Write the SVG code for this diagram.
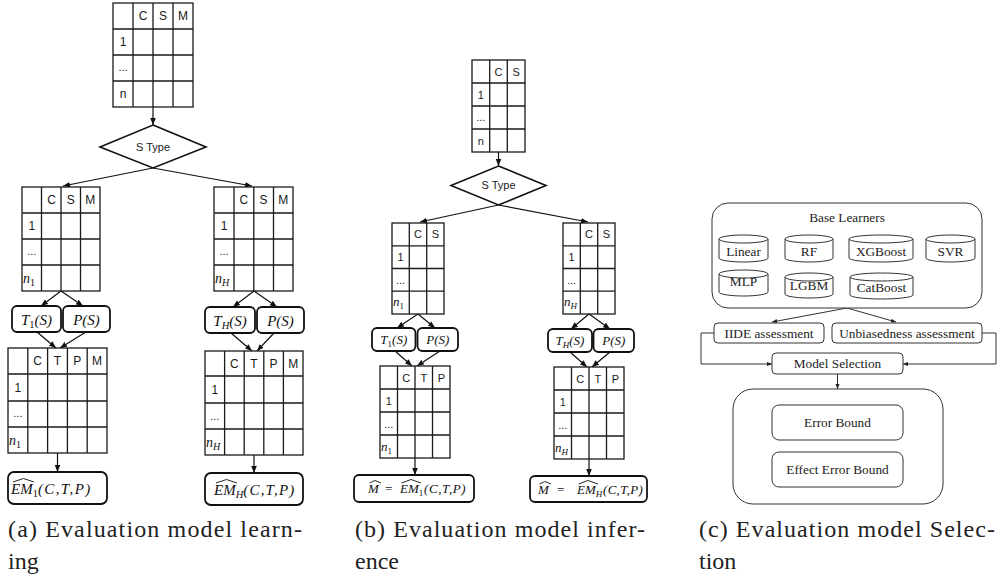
<svg xmlns="http://www.w3.org/2000/svg" width="997" height="581" viewBox="0 0 997 581">
<style>
.bg{fill:#fff}
.tb{fill:#fff;stroke:#1a1a1a;stroke-width:1.3}
.tl{stroke:#1a1a1a;stroke-width:1.3}
.sa{font-family:"Liberation Sans",Arial,sans-serif;font-size:12px;fill:#1a1a1a;text-anchor:middle}
.sb{font-family:"Liberation Sans",Arial,sans-serif;font-size:11px;fill:#1a1a1a;text-anchor:middle}
.m{font-family:"Liberation Serif","Times New Roman",serif;font-style:italic;fill:#111}
.up{font-style:normal}
.bx{fill:#fff;stroke:#111;stroke-width:1.8}
.dm{fill:#fff;stroke:#111;stroke-width:1.6}
.cn{stroke:#111;stroke-width:1.2;fill:none}
.cc{stroke:#333;stroke-width:1;fill:none}
.pc{fill:#fff;stroke:#333;stroke-width:1}
.hat{fill:none;stroke:#111;stroke-width:0.9}
.tc{font-family:"Liberation Serif","Times New Roman",serif;font-size:13.3px;text-anchor:middle;fill:#222}
.cap{font-family:"Liberation Serif","Times New Roman",serif;font-size:24px;fill:#222}
</style>
<defs>
<marker id="ah" viewBox="0 0 10 10" refX="10" refY="5" markerWidth="7" markerHeight="7" markerUnits="userSpaceOnUse" orient="auto"><path d="M0,1 L10,5 L0,9 z" fill="#111"/></marker>
<marker id="as" viewBox="0 0 10 10" refX="10" refY="5" markerWidth="5" markerHeight="5" markerUnits="userSpaceOnUse" orient="auto"><path d="M0,1 L10,5 L0,9 z" fill="#222"/></marker>
</defs>
<rect class="bg" x="0" y="0" width="997" height="581"/>

<!-- connectors -->
<g id="connectors">
<line class="cn" x1="153" y1="107" x2="153" y2="125" marker-end="url(#ah)"/>
<line class="cn" x1="153" y1="168" x2="63" y2="186" marker-end="url(#ah)"/>
<line class="cn" x1="153" y1="168" x2="252" y2="186" marker-end="url(#ah)"/>
<line class="cn" x1="61" y1="291" x2="41" y2="306" marker-end="url(#ah)"/>
<line class="cn" x1="61" y1="291" x2="83" y2="306" marker-end="url(#ah)"/>
<line class="cn" x1="254" y1="291" x2="233" y2="307" marker-end="url(#ah)"/>
<line class="cn" x1="254" y1="291" x2="277" y2="307" marker-end="url(#ah)"/>
<line class="cn" x1="37" y1="332" x2="56" y2="348" marker-end="url(#ah)"/>
<line class="cn" x1="86" y1="332" x2="60" y2="348" marker-end="url(#ah)"/>
<line class="cn" x1="231" y1="333" x2="252" y2="351" marker-end="url(#ah)"/>
<line class="cn" x1="274" y1="333" x2="257" y2="351" marker-end="url(#ah)"/>
<line class="cn" x1="57.5" y1="453" x2="57.5" y2="472" marker-end="url(#ah)"/>
<line class="cn" x1="254" y1="455" x2="254" y2="473" marker-end="url(#ah)"/>

<line class="cn" x1="498.5" y1="152" x2="498.5" y2="166" marker-end="url(#ah)"/>
<line class="cn" x1="498.5" y1="205" x2="420" y2="222" marker-end="url(#ah)"/>
<line class="cn" x1="498.5" y1="205" x2="588" y2="222" marker-end="url(#ah)"/>
<line class="cn" x1="418" y1="314" x2="397" y2="328" marker-end="url(#ah)"/>
<line class="cn" x1="418" y1="314" x2="435" y2="328" marker-end="url(#ah)"/>
<line class="cn" x1="589" y1="314" x2="571" y2="329" marker-end="url(#ah)"/>
<line class="cn" x1="589" y1="314" x2="610" y2="329" marker-end="url(#ah)"/>
<line class="cn" x1="395" y1="351" x2="412" y2="366" marker-end="url(#ah)"/>
<line class="cn" x1="440" y1="351" x2="417" y2="366" marker-end="url(#ah)"/>
<line class="cn" x1="570" y1="352" x2="587" y2="367" marker-end="url(#ah)"/>
<line class="cn" x1="610" y1="352" x2="592" y2="367" marker-end="url(#ah)"/>
<line class="cn" x1="415" y1="458" x2="415" y2="475" marker-end="url(#ah)"/>
<line class="cn" x1="589" y1="459" x2="589" y2="476" marker-end="url(#ah)"/>

<line class="cc" x1="847" y1="308" x2="772" y2="322" marker-end="url(#as)"/>
<line class="cc" x1="847" y1="308" x2="896" y2="322" marker-end="url(#as)"/>
<polyline class="cc" points="714,333 701,333 701,364 772,364" marker-end="url(#as)"/>
<polyline class="cc" points="982,333 996,333 996,364 903,364" marker-end="url(#as)"/>
<line class="cc" x1="837.5" y1="374" x2="837.5" y2="389" marker-end="url(#as)"/>
</g>

<!-- panel (a) -->
<g id="a-table-top">
<rect class="tb" x="113" y="3" width="80" height="104"/>
<path class="tl" d="M133,3V107M153,3V107M173,3V107M113,29H193M113,55H193M113,81H193"/>
<text class="sa" x="143" y="20">C</text><text class="sa" x="163" y="20">S</text><text class="sa" x="183" y="20">M</text>
<text class="sa" x="123" y="46">1</text><text class="sb" x="123" y="71">...</text><text class="sa" x="123" y="98">n</text>
</g>
<g id="a-stype">
<polygon class="dm" points="153,125 206,147 153,168 100,147"/>
<text class="sb" x="153" y="151">S Type</text>
</g>
<g id="a-table-1">
<rect class="tb" x="22" y="187" width="78" height="104"/>
<path class="tl" d="M41.5,187V291M61,187V291M80.5,187V291M22,213H100M22,239H100M22,265H100"/>
<text class="sa" x="51.5" y="204">C</text><text class="sa" x="70.8" y="204">S</text><text class="sa" x="90.3" y="204">M</text>
<text class="sa" x="31.8" y="230">1</text><text class="sb" x="31.8" y="255">...</text>
<text class="m" x="23" y="283" font-size="14">n<tspan class="up" font-size="10" dy="3">1</tspan></text>
</g>
<g id="a-table-H">
<rect class="tb" x="214" y="187" width="79" height="104"/>
<path class="tl" d="M234,187V291M253.8,187V291M273.5,187V291M214,213H293M214,239H293M214,265H293"/>
<text class="sa" x="243.9" y="204">C</text><text class="sa" x="263.6" y="204">S</text><text class="sa" x="283.2" y="204">M</text>
<text class="sa" x="224" y="230">1</text><text class="sb" x="224" y="255">...</text>
<text class="m" x="215" y="283" font-size="14">n<tspan font-size="10" dy="3">H</tspan></text>
</g>
<g id="a-T1">
<rect class="bx" x="12" y="306" width="49" height="26" rx="5"/>
<text class="m" x="36.5" y="325" font-size="15" text-anchor="middle">T<tspan class="up" font-size="10.5" dy="3">1</tspan><tspan dy="-3">(S)</tspan></text>
</g>
<g id="a-P1">
<rect class="bx" x="63" y="306" width="47" height="26" rx="5"/>
<text class="m" x="86.5" y="325" font-size="15" text-anchor="middle">P(S)</text>
</g>
<g id="a-TH">
<rect class="bx" x="205" y="307" width="50" height="26" rx="5"/>
<text class="m" x="230" y="326" font-size="15" text-anchor="middle">T<tspan font-size="10.5" dy="3">H</tspan><tspan dy="-3">(S)</tspan></text>
</g>
<g id="a-PH">
<rect class="bx" x="257" y="307" width="47" height="26" rx="5"/>
<text class="m" x="280.5" y="326" font-size="15" text-anchor="middle">P(S)</text>
</g>
<g id="a-table-1b">
<rect class="tb" x="8" y="348" width="99" height="105"/>
<path class="tl" d="M27.8,348V453M47.6,348V453M67.4,348V453M87.2,348V453M8,374H107M8,401H107M8,427H107"/>
<text class="sa" x="37.7" y="365">C</text><text class="sa" x="57.5" y="365">T</text><text class="sa" x="77.3" y="365">P</text><text class="sa" x="97.1" y="365">M</text>
<text class="sa" x="17.9" y="392">1</text><text class="sb" x="17.9" y="417">...</text>
<text class="m" x="9" y="445" font-size="14">n<tspan class="up" font-size="10" dy="3">1</tspan></text>
</g>
<g id="a-table-Hb">
<rect class="tb" x="205" y="351" width="98" height="104"/>
<path class="tl" d="M224.6,351V455M244.2,351V455M263.8,351V455M283.4,351V455M205,376H303M205,403H303M205,429H303"/>
<text class="sa" x="234.4" y="368">C</text><text class="sa" x="254" y="368">T</text><text class="sa" x="273.6" y="368">P</text><text class="sa" x="293.2" y="368">M</text>
<text class="sa" x="214.8" y="394">1</text><text class="sb" x="214.8" y="420">...</text>
<text class="m" x="206" y="447" font-size="14">n<tspan font-size="10" dy="3">H</tspan></text>
</g>
<g id="a-EM1">
<rect class="bx" x="8" y="472" width="99" height="32" rx="6"/>
<text class="m" y="494" font-size="15"><tspan x="11">EM</tspan><tspan class="up" font-size="10.5" dy="3">1</tspan><tspan dy="-3" letter-spacing="1.4">(C,T,P)</tspan></text>
<path class="hat" d="M13,482 L23.5,478.5 L34,482"/>
</g>
<g id="a-EMH">
<rect class="bx" x="205" y="473" width="98" height="32" rx="6"/>
<text class="m" y="495" font-size="15"><tspan x="214">EM</tspan><tspan font-size="10.5" dy="3">H</tspan><tspan dy="-3" letter-spacing="1.2">(C,T,P)</tspan></text>
<path class="hat" d="M216,483 L226.5,479.5 L237,483"/>
</g>

<!-- panel (b) -->
<g id="b-table-top">
<rect class="tb" x="472" y="60" width="53" height="92"/>
<path class="tl" d="M489.7,60V152M507.3,60V152M472,83H525M472,106H525M472,129H525"/>
<text class="sb" x="498.5" y="75.5">C</text><text class="sb" x="516.2" y="75.5">S</text>
<text class="sb" x="480.8" y="98.5">1</text><text class="sb" x="480.8" y="121">...</text><text class="sb" x="480.8" y="144.5">n</text>
</g>
<g id="b-stype">
<polygon class="dm" points="498.5,166 546,185.5 498.5,205 451,185.5"/>
<text class="sb" x="498.5" y="189" font-size="10">S Type</text>
</g>
<g id="b-table-1">
<rect class="tb" x="392" y="223" width="52" height="91"/>
<path class="tl" d="M409.3,223V314M426.7,223V314M392,245.8H444M392,268.5H444M392,291.2H444"/>
<text class="sb" x="418" y="238">C</text><text class="sb" x="435.3" y="238">S</text>
<text class="sb" x="400.6" y="261">1</text><text class="sb" x="400.6" y="284">...</text>
<text class="m" x="393" y="306" font-size="13">n<tspan class="up" font-size="9" dy="3">1</tspan></text>
</g>
<g id="b-table-H">
<rect class="tb" x="563" y="223" width="52" height="91"/>
<path class="tl" d="M580.3,223V314M597.7,223V314M563,245.8H615M563,268.5H615M563,291.2H615"/>
<text class="sb" x="589" y="238">C</text><text class="sb" x="606.3" y="238">S</text>
<text class="sb" x="571.6" y="261">1</text><text class="sb" x="571.6" y="284">...</text>
<text class="m" x="564" y="306" font-size="13">n<tspan font-size="9" dy="3">H</tspan></text>
</g>
<g id="b-T1">
<rect class="bx" x="372" y="328" width="43.5" height="23" rx="5"/>
<text class="m" x="393.8" y="344" font-size="13" text-anchor="middle">T<tspan class="up" font-size="9" dy="3">1</tspan><tspan dy="-3">(S)</tspan></text>
</g>
<g id="b-P1">
<rect class="bx" x="417.5" y="328" width="40.5" height="23" rx="5"/>
<text class="m" x="437.8" y="344" font-size="13" text-anchor="middle">P(S)</text>
</g>
<g id="b-TH">
<rect class="bx" x="548" y="329" width="44" height="23" rx="5"/>
<text class="m" x="570" y="345" font-size="13" text-anchor="middle">T<tspan font-size="9" dy="3">H</tspan><tspan dy="-3">(S)</tspan></text>
</g>
<g id="b-PH">
<rect class="bx" x="593.5" y="329" width="40.5" height="23" rx="5"/>
<text class="m" x="613.8" y="345" font-size="13" text-anchor="middle">P(S)</text>
</g>
<g id="b-table-1b">
<rect class="tb" x="380" y="366" width="70" height="92"/>
<path class="tl" d="M397.5,366V458M415,366V458M432.5,366V458M380,389H450M380,412H450M380,435H450"/>
<text class="sb" x="406.3" y="381.5">C</text><text class="sb" x="423.8" y="381.5">T</text><text class="sb" x="441.3" y="381.5">P</text>
<text class="sb" x="388.8" y="404.5">1</text><text class="sb" x="388.8" y="428">...</text>
<text class="m" x="381" y="451" font-size="13">n<tspan class="up" font-size="9" dy="3">1</tspan></text>
</g>
<g id="b-table-Hb">
<rect class="tb" x="554" y="367" width="70" height="92"/>
<path class="tl" d="M571.5,367V459M589,367V459M606.5,367V459M554,390H624M554,413H624M554,436H624"/>
<text class="sb" x="580.3" y="382.5">C</text><text class="sb" x="597.8" y="382.5">T</text><text class="sb" x="615.3" y="382.5">P</text>
<text class="sb" x="562.8" y="405.5">1</text><text class="sb" x="562.8" y="429">...</text>
<text class="m" x="555" y="452" font-size="13">n<tspan font-size="9" dy="3">H</tspan></text>
</g>
<g id="b-M1">
<rect class="bx" x="354" y="475" width="120" height="27" rx="5"/>
<text class="m" y="493" font-size="13"><tspan x="368">M</tspan><tspan class="up" x="385">=</tspan><tspan x="400">EM</tspan><tspan class="up" font-size="9" dy="3">1</tspan><tspan x="424" dy="-3" letter-spacing="0.6">(C,T,P)</tspan></text>
<path class="hat" d="M369.5,483 L375,480.5 L381,483"/>
<path class="hat" d="M401.5,483 L411,479.5 L421,483"/>
</g>
<g id="b-MH">
<rect class="bx" x="530" y="476" width="117" height="26" rx="5"/>
<text class="m" y="494" font-size="13"><tspan x="538">M</tspan><tspan class="up" x="557">=</tspan><tspan x="577">EM</tspan><tspan font-size="9" dy="3">H</tspan><tspan x="603" dy="-3" letter-spacing="0.3">(C,T,P)</tspan></text>
<path class="hat" d="M539.5,484 L545,481.5 L551,484"/>
<path class="hat" d="M578.5,484 L588,480.5 L598,484"/>
</g>

<!-- panel (c) -->
<g id="c-base">
<rect class="pc" x="712" y="203" width="270" height="105" rx="16"/>
<text class="tc" x="847" y="222">Base Learners</text>
</g>
<g id="c-linear">
<path class="pc" d="M719,239 a24.5,4 0 0 1 49,0 v19 a24.5,4 0 0 1 -49,0 z M719,239 a24.5,4 0 0 0 49,0"/>
<text class="tc" x="743.5" y="256">Linear</text>
</g>
<g id="c-rf">
<path class="pc" d="M785,239 a24,4 0 0 1 48,0 v19 a24,4 0 0 1 -48,0 z M785,239 a24,4 0 0 0 48,0"/>
<text class="tc" x="809" y="256">RF</text>
</g>
<g id="c-xgb">
<path class="pc" d="M849,239 a32,4 0 0 1 64,0 v19 a32,4 0 0 1 -64,0 z M849,239 a32,4 0 0 0 64,0"/>
<text class="tc" x="881" y="256">XGBoost</text>
</g>
<g id="c-svr">
<path class="pc" d="M926,239 a24.5,4 0 0 1 49,0 v19 a24.5,4 0 0 1 -49,0 z M926,239 a24.5,4 0 0 0 49,0"/>
<text class="tc" x="950.5" y="256">SVR</text>
</g>
<g id="c-mlp">
<path class="pc" d="M719,274 a24.5,4 0 0 1 49,0 v18 a24.5,4 0 0 1 -49,0 z M719,274 a24.5,4 0 0 0 49,0"/>
<text class="tc" x="743.5" y="286">MLP</text>
</g>
<g id="c-lgbm">
<path class="pc" d="M785,277 a24,4 0 0 1 48,0 v17 a24,4 0 0 1 -48,0 z M785,277 a24,4 0 0 0 48,0"/>
<text class="tc" x="809" y="290">LGBM</text>
</g>
<g id="c-cat">
<path class="pc" d="M850,277 a31.5,4 0 0 1 63,0 v18 a31.5,4 0 0 1 -63,0 z M850,277 a31.5,4 0 0 0 63,0"/>
<text class="tc" x="881.5" y="292">CatBoost</text>
</g>
<g id="c-iide">
<rect class="pc" x="714" y="323" width="110" height="20" rx="4"/>
<text class="tc" x="769" y="337.5">IIDE assessment</text>
</g>
<g id="c-unb">
<rect class="pc" x="832" y="323" width="150" height="20" rx="4"/>
<text class="tc" x="907" y="337.5">Unbiasedness assessment</text>
</g>
<g id="c-ms">
<rect class="pc" x="772" y="353" width="131" height="21" rx="4"/>
<text class="tc" x="837.5" y="368">Model Selection</text>
</g>
<g id="c-outer">
<rect class="pc" x="733" y="389" width="210" height="115" rx="20"/>
</g>
<g id="c-eb">
<rect class="pc" x="772" y="405" width="131" height="35" rx="7"/>
<text class="tc" x="837.5" y="427">Error Bound</text>
</g>
<g id="c-eeb">
<rect class="pc" x="772" y="452" width="131" height="35" rx="7"/>
<text class="tc" x="837.5" y="474">Effect Error Bound</text>
</g>

<!-- captions -->
<g id="captions">
<text class="cap" x="8" y="537" textLength="294">(a) Evaluation model learn-</text>
<text class="cap" x="8" y="569">ing</text>
<text class="cap" x="355" y="537" textLength="290">(b) Evaluation model infer-</text>
<text class="cap" x="355" y="569">ence</text>
<text class="cap" x="699" y="537" textLength="296">(c) Evaluation model Selec-</text>
<text class="cap" x="699" y="569">tion</text>
</g>
</svg>
